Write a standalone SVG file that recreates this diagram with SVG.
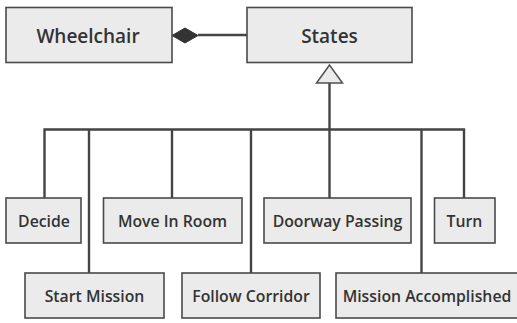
<svg xmlns="http://www.w3.org/2000/svg" width="517" height="323" viewBox="0 0 517 323">
<defs>
<style>
.box{fill:#ebebeb;stroke:#4a4a4a;stroke-width:1.6}
.t{font-family:"Open Sans","Liberation Sans",sans-serif;fill:#333;text-anchor:middle;font-size:15.8px;font-weight:600}
.big{font-size:19px}
.ln{fill:none;stroke:#444;stroke-width:2.4}
</style>
</defs>
<rect width="517" height="323" fill="#fff"/>
<g id="connectors">
<line class="ln" x1="198" y1="35" x2="247" y2="35"/>
<polygon points="172,35.5 185,28 198,35.5 185,43" fill="#333" stroke="#333" stroke-width="1"/>
<line class="ln" x1="329.5" y1="83" x2="329.5" y2="129.5"/>
<polygon points="329.5,65 316.5,83 342.5,83" fill="#ebebeb" stroke="#505050" stroke-width="1.5"/>
<polyline class="ln" points="44.5,198 44.5,129.5 464,129.5 464,198"/>
<line class="ln" x1="89" y1="129.5" x2="89" y2="273"/>
<line class="ln" x1="172" y1="129.5" x2="172" y2="198"/>
<line class="ln" x1="251" y1="129.5" x2="251" y2="273"/>
<line class="ln" x1="329.5" y1="129.5" x2="329.5" y2="198"/>
<line class="ln" x1="421.5" y1="129.5" x2="421.5" y2="273"/>
</g>
<g id="wheelchair"><rect class="box" x="6" y="7.5" width="166" height="55"/><text class="t big" x="88" y="42.5">Wheelchair</text></g>
<g id="states"><rect class="box" x="247" y="7.5" width="165" height="55"/><text class="t big" x="329.5" y="42.5">States</text></g>
<g id="decide"><rect class="box" x="6" y="198" width="75" height="45"/><text class="t" x="44" y="227">Decide</text></g>
<g id="move-in-room"><rect class="box" x="103.5" y="198" width="138.5" height="45"/><text class="t" x="172.5" y="227">Move In Room</text></g>
<g id="doorway-passing"><rect class="box" x="264" y="198" width="147" height="45"/><text class="t" x="337.5" y="227">Doorway Passing</text></g>
<g id="turn"><rect class="box" x="434.5" y="198" width="60.5" height="45"/><text class="t" x="464.5" y="227">Turn</text></g>
<g id="start-mission"><rect class="box" x="25" y="273" width="139" height="45"/><text class="t" x="94.5" y="302">Start Mission</text></g>
<g id="follow-corridor"><rect class="box" x="182" y="273" width="138" height="45"/><text class="t" x="251" y="302">Follow Corridor</text></g>
<g id="mission-accomplished"><rect class="box" x="336" y="273" width="184" height="45"/><text class="t" x="427" y="302">Mission Accomplished</text></g>
</svg>
